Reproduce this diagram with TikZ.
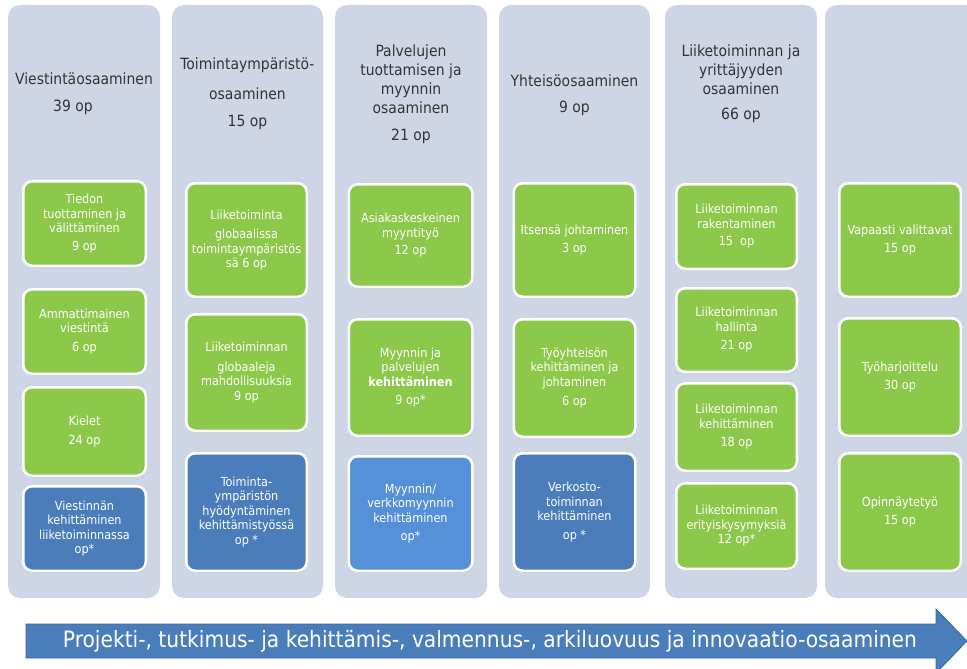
\documentclass[tikz,border=0pt]{standalone}
\usepackage{fontspec}
\setmainfont{DejaVu Sans Condensed}
\usetikzlibrary{shadows}
\definecolor{colbg}{HTML}{CED6E6}
\definecolor{grn}{HTML}{8CC84A}
\definecolor{blu}{HTML}{4A7DBA}
\definecolor{blul}{HTML}{5690D8}
\definecolor{hdr}{HTML}{333333}
\definecolor{arrowblue}{HTML}{4A7EBB}
\definecolor{arrowedge}{HTML}{3A64A0}
\tikzset{
  colbox/.style={fill=colbg, rounded corners=12pt, inner sep=0pt, minimum height=593pt},
  card/.style={draw=white, line width=2.5pt, rounded corners=9pt, inner sep=0pt,
    text=white, align=center, font=\fontsize{12.5}{14.5}\selectfont,
    drop shadow={shadow xshift=1pt, shadow yshift=-1.5pt, opacity=0.3}},
  gcard/.style={card, fill=grn},
  bcard/.style={card, fill=blu},
  lcard/.style={card, fill=blul},
  hdrtext/.style={text=hdr, align=center, font=\fontsize{15.5}{19}\selectfont}
}
\begin{document}
\begin{tikzpicture}[x=1pt,y=-1pt]
\useasboundingbox (0,0) rectangle (967,669);
\clip (0,0) rectangle (967,669);
% columns
\node[colbox, minimum width=152pt] (col1) at (84,301.5) {};
\node[colbox, minimum width=151pt] (col2) at (247.5,301.5) {};
\node[colbox, minimum width=152pt] (col3) at (411,301.5) {};
\node[colbox, minimum width=151pt] (col4) at (574.5,301.5) {};
\node[colbox, minimum width=152pt] (col5) at (741,301.5) {};
\node[colbox, minimum width=152pt] (col6) at (901,301.5) {};
% headers
\node[hdrtext] (h1) at (84,93.5) {Viestintäosaaminen\\[8pt]39 op\hbox to 22pt{}};
\node[hdrtext] (h2) at (247.5,93.5) {Toimintaympäristö-\\[11pt]osaaminen\\[8pt]15 op};
\node[hdrtext] (h3) at (411,94.5) {Palvelujen\\tuottamisen ja\\myynnin\\osaaminen\\[8pt]21 op};
\node[hdrtext] (h4) at (574.5,95) {Yhteisöosaaminen\\[7pt]9 op};
\node[hdrtext] (h5) at (741,84) {Liiketoiminnan ja\\yrittäjyyden\\osaaminen\\[6pt]66 op};
% column 1
\node[gcard, minimum width=122.5pt, minimum height=84.5pt] (c1a) at (84.5,223.5) {Tiedon\\tuottaminen ja\\välittäminen\\[3pt]9 op};
\node[gcard, minimum width=122.5pt, minimum height=84.5pt] (c1b) at (84.5,331.5) {Ammattimainen\\viestintä\\[4pt]6 op};
\node[gcard, minimum width=122.5pt, minimum height=88.5pt] (c1c) at (84.5,431.5) {Kielet\\[5pt]24 op};
\node[bcard, minimum width=122.5pt, minimum height=84.5pt] (c1d) at (84.5,528.5) {Viestinnän\\kehittäminen\\liiketoiminnassa\\op*};
% column 2
\node[gcard, minimum width=120.5pt, minimum height=113.5pt] (c2a) at (246.5,240) {Liiketoiminta\\[5pt]globaalissa\\toimintaympäristös\\sä 6 op};
\node[gcard, minimum width=120.5pt, minimum height=116.5pt] (c2b) at (246.5,372.5) {Liiketoiminnan\\[5pt]globaaleja\\mahdollisuuksia\\9 op};
\node[bcard, minimum width=120.5pt, minimum height=117.5pt] (c2c) at (246.5,512) {Toiminta-\\ympäristön\\hyödyntäminen\\kehittämistyössä\\op *};
% column 3
\node[gcard, minimum width=123.5pt, minimum height=102.5pt] (c3a) at (410.5,235.5) {Asiakaskeskeinen\\myyntityö\\[3pt]12 op};
\node[gcard, minimum width=123.5pt, minimum height=116.5pt] (c3b) at (410.5,377.5) {Myynnin ja\\palvelujen\\\textbf{kehittäminen}\\[4pt]9 op*};
\node[lcard, minimum width=123.5pt, minimum height=114.5pt] (c3c) at (410.5,513.5) {Myynnin/\\verkkomyynnin\\kehittäminen\\[4pt]op*};
% column 4
\node[gcard, minimum width=121.5pt, minimum height=113.5pt] (c4a) at (574.5,240) {Itsensä johtaminen\\[3pt]3 op};
\node[gcard, minimum width=121.5pt, minimum height=117.5pt] (c4b) at (574.5,378) {Työyhteisön\\kehittäminen ja\\johtaminen\\[5pt]6 op};
\node[bcard, minimum width=121.5pt, minimum height=117.5pt] (c4c) at (574.5,512) {Verkosto-\\toiminnan\\kehittäminen\\[4pt]op *};
% column 5
\node[gcard, minimum width=120.5pt, minimum height=84.5pt] (c5a) at (736.5,226.5) {Liiketoiminnan\\rakentaminen\\[3pt]15\ \ op};
\node[gcard, minimum width=120.5pt, minimum height=83.5pt] (c5b) at (736.5,330) {Liiketoiminnan\\hallinta\\[4pt]21 op};
\node[gcard, minimum width=120.5pt, minimum height=87.5pt] (c5c) at (736.5,427) {Liiketoiminnan\\kehittäminen\\[4pt]18 op};
\node[gcard, minimum width=120.5pt, minimum height=85.5pt] (c5d) at (736.5,526) {Liiketoiminnan\\erityiskysymyksiä\\12 op*};
% column 6
\node[gcard, minimum width=121.5pt, minimum height=113.5pt] (c6a) at (900,240) {Vapaasti valittavat\\[3pt]15 op};
\node[gcard, minimum width=121.5pt, minimum height=117.5pt] (c6b) at (900,377) {Työharjoittelu\\[4pt]30 op};
\node[gcard, minimum width=121.5pt, minimum height=117.5pt] (c6c) at (900,512) {Opinnäytetyö\\[4pt]15 op};
% bottom arrow
\draw[fill=arrowblue, draw=arrowedge, line width=0.8pt]
  (26,624) -- (936,624) -- (936,609) -- (967,641) -- (936,673) -- (936,658) -- (26,658) -- cycle;
\node[text=white, font=\fontsize{22.5}{24}\selectfont] (arrtext) at (490,641)
  {Projekti-, tutkimus- ja kehittämis-, valmennus-, arkiluovuus ja innovaatio-osaaminen};
\end{tikzpicture}
\end{document}
